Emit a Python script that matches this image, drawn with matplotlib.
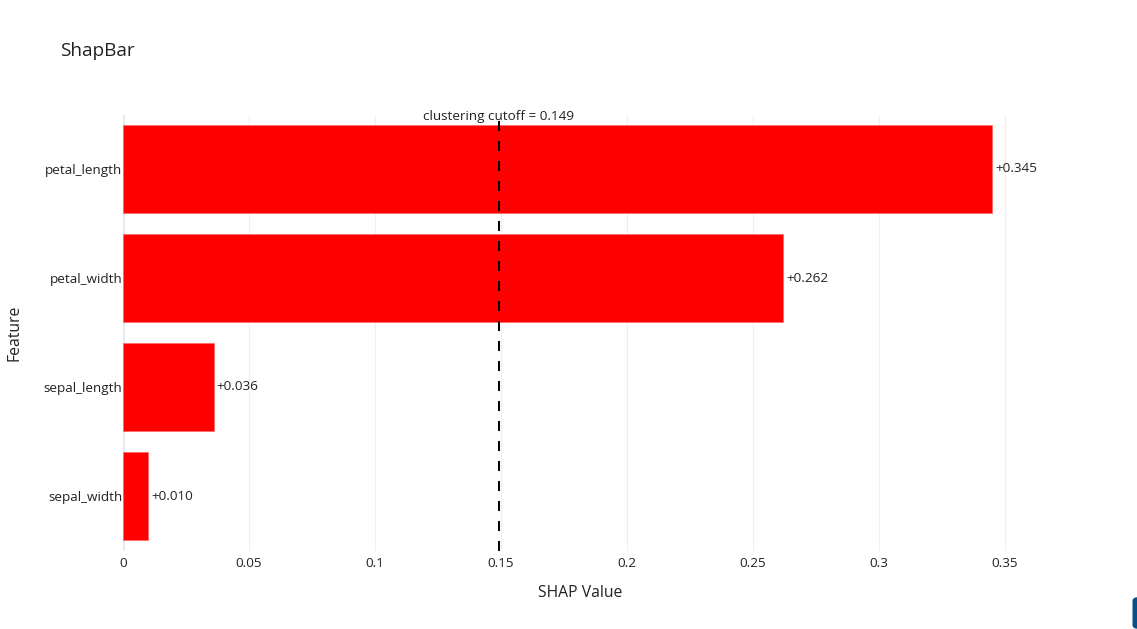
import matplotlib
matplotlib.use("Agg")
import matplotlib.pyplot as plt
from matplotlib.patches import FancyBboxPatch
import matplotlib.transforms as mtransforms

features = ["petal_length", "petal_width", "sepal_length", "sepal_width"]
shap_values = [0.345, 0.262, 0.036, 0.010]
value_labels = ["+0.345", "+0.262", "+0.036", "+0.010"]
cutoff = 0.149
x_ticks = [0, 0.05, 0.1, 0.15, 0.2, 0.25, 0.3, 0.35]
x_ticklabels = ["0", "0.05", "0.1", "0.15", "0.2", "0.25", "0.3", "0.35"]

plt.rcParams['font.family'] = ['Open Sans', 'DejaVu Sans']

W, H = 1137, 629
fig = plt.figure(figsize=(W / 100, H / 100), dpi=100)
left_px, right_px, top_px, bottom_px = 123, 1057, 114.5, 550.5
ax = fig.add_axes([left_px / W, 1 - bottom_px / H, (right_px - left_px) / W, (bottom_px - top_px) / H])

scale = (1005 - 123) / 0.35
ax.set_xlim(0, (right_px - left_px) / scale)
ax.set_ylim(len(features) - 0.5, -0.5)

fs = 9.7
fs_ax = 11.3
grid_col = "#EBF0F8"
for t in x_ticks[1:]:
    ax.axvline(t, color=grid_col, lw=0.75, zorder=0)
ax.axvline(0, color="#E5ECF6", lw=2.2, zorder=0)

ypos = list(range(len(features)))
ax.barh(ypos, shap_values, height=0.8, color="#FF0000", edgecolor="#FF6666", linewidth=0.5, zorder=2)

dark = "#222222"
for y, v, lab in zip(ypos, shap_values, value_labels):
    ax.text(v + 0.0012, y, lab, va="center", ha="left", fontsize=fs, color=dark, zorder=4)

ax.axvline(cutoff + 0.0004, color="black", lw=1.44, linestyle=(0, (5, 5)), zorder=3)
trans = mtransforms.blended_transform_factory(ax.transData, ax.transAxes)
ax.text(cutoff, 0.995, "clustering cutoff = 0.149", transform=trans, ha="center", va="center",
        fontsize=fs, color=dark, zorder=5, clip_on=False)

ax.set_yticks(ypos)
ax.set_yticklabels(features, fontsize=fs, color=dark)
ax.set_xticks(x_ticks)
ax.set_xticklabels(x_ticklabels, fontsize=fs, color=dark)
ax.tick_params(axis="both", length=0, pad=0.5)
ax.tick_params(axis="x", pad=5)
for s in ax.spines.values():
    s.set_visible(False)

ax.set_xlabel("SHAP Value", fontsize=fs_ax, color=dark)
ax.set_ylabel("Feature", fontsize=fs_ax, color=dark)
ax.yaxis.set_label_coords(-(123 - 14) / (right_px - left_px), 0.5)
ax.xaxis.set_label_coords((580 - left_px) / (right_px - left_px), -(593 - bottom_px) / (bottom_px - top_px))
ax.xaxis.label.set_va("center")
ax.yaxis.label.set_va("center")

fig.text(60 / W, 1 - 51 / H, "ShapBar", fontsize=13.7, color=dark, ha="left", va="center")

patch = FancyBboxPatch((1132.5 / W, 0), 10 / W, 32 / H, boxstyle="round,pad=0,rounding_size=0.006",
                       transform=fig.transFigure, facecolor="#0B4F8A", edgecolor="none", clip_on=False)
fig.patches.append(patch)

fig.savefig("out.png", dpi=100, facecolor="white")
